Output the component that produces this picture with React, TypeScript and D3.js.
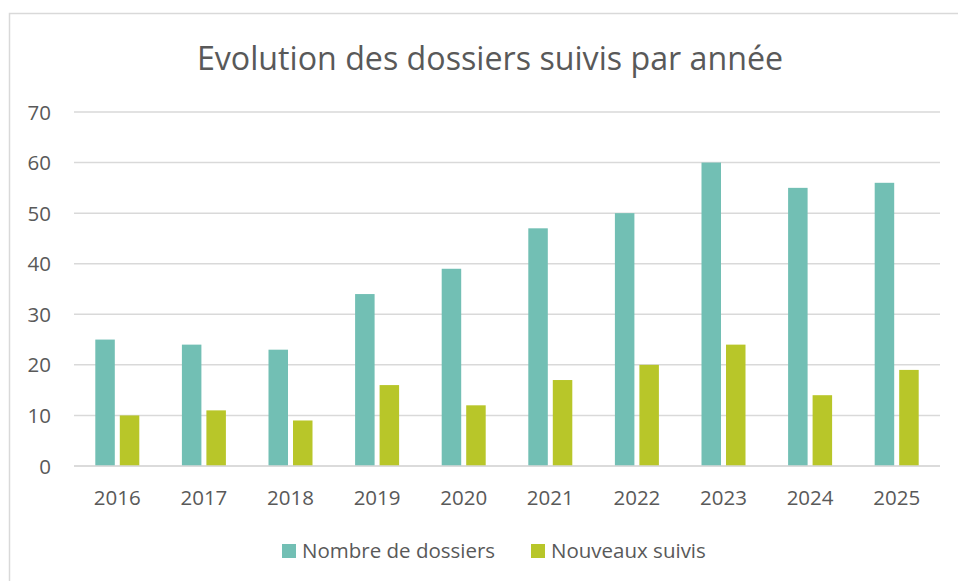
import React, { useEffect, useRef } from 'react';
import * as d3 from 'd3';

// données
const years = ['2016', '2017', '2018', '2019', '2020', '2021', '2022', '2023', '2024', '2025'];
const nombreDossiers = [25, 24, 23, 34, 39, 47, 50, 60, 55, 56];
const nouveauxSuivis = [10, 11, 9, 16, 12, 17, 20, 24, 14, 19];
const yTicks = [0, 10, 20, 30, 40, 50, 60, 70];
const seriesNames = ['Nombre de dossiers', 'Nouveaux suivis'];
const seriesColors = ['#72BFB4', '#B8C629'];

const W = 958;
const H = 581;
const FONT = '"Open Sans", sans-serif';
const TEXT = '#595959';

const App: React.FC = () => {
  const ref = useRef<SVGSVGElement>(null);

  useEffect(() => {
    if (!ref.current) return;
    const svg = d3.select(ref.current);
    svg.selectAll('*').remove();

    // cadre du graphique
    svg
      .append('rect')
      .attr('x', 9.5)
      .attr('y', 13.5)
      .attr('width', W + 10)
      .attr('height', H + 10)
      .attr('fill', '#fff')
      .attr('stroke', '#D9D9D9')
      .attr('stroke-width', 1.5);

    // titre
    svg
      .append('text')
      .attr('x', 490)
      .attr('y', 70)
      .attr('text-anchor', 'middle')
      .attr('font-family', FONT)
      .attr('font-size', 32.2)
      .attr('fill', TEXT)
      .text('Evolution des dossiers suivis par année');

    const plot = { left: 74, right: 940, top: 112, bottom: 466 };

    const x = d3.scaleBand<string>().domain(years).range([plot.left, plot.right]);
    const y = d3.scaleLinear().domain([0, 70]).range([plot.bottom, plot.top]);
    const xSeries = d3.scaleBand<number>().domain([0, 1]).range([-22, 22]).paddingInner(0.204);

    // grille
    svg
      .append('g')
      .selectAll('line')
      .data(yTicks)
      .join('line')
      .attr('x1', plot.left)
      .attr('x2', plot.right)
      .attr('y1', (d) => y(d))
      .attr('y2', (d) => y(d))
      .attr('stroke', '#D9D9D9')
      .attr('stroke-width', 1.5);

    // étiquettes axe Y
    svg
      .append('g')
      .selectAll('text')
      .data(yTicks)
      .join('text')
      .attr('x', 51)
      .attr('y', (d) => y(d) + 7.5)
      .attr('text-anchor', 'end')
      .attr('font-family', FONT)
      .attr('font-size', 20.5)
      .attr('fill', TEXT)
      .text((d) => d);

    // barres
    const series = [nombreDossiers, nouveauxSuivis];
    series.forEach((vals, si) => {
      svg
        .append('g')
        .selectAll('rect')
        .data(vals)
        .join('rect')
        .attr('x', (_, i) => x(years[i])! + x.bandwidth() / 2 + xSeries(si)!)
        .attr('y', (d) => y(d))
        .attr('width', xSeries.bandwidth())
        .attr('height', (d) => y(0) - y(d))
        .attr('fill', seriesColors[si]);
    });

    // axe X
    svg
      .append('line')
      .attr('x1', plot.left)
      .attr('x2', plot.right)
      .attr('y1', y(0))
      .attr('y2', y(0))
      .attr('stroke', '#D9D9D9')
      .attr('stroke-width', 1.5);

    svg
      .append('g')
      .selectAll('text')
      .data(years)
      .join('text')
      .attr('x', (d) => x(d)! + x.bandwidth() / 2)
      .attr('y', 505)
      .attr('text-anchor', 'middle')
      .attr('font-family', FONT)
      .attr('font-size', 20.5)
      .attr('fill', TEXT)
      .text((d) => d);

    // légende
    const legendX = [282, 531];
    const legend = svg
      .append('g')
      .selectAll('g')
      .data(seriesNames)
      .join('g')
      .attr('transform', (_, i) => `translate(${legendX[i]},544)`);
    legend
      .append('rect')
      .attr('width', 14)
      .attr('height', 14)
      .attr('fill', (_, i) => seriesColors[i]);
    legend
      .append('text')
      .attr('x', 20)
      .attr('y', 14)
      .attr('font-family', FONT)
      .attr('font-size', 20.5)
      .attr('fill', TEXT)
      .text((d) => d);
  }, []);

  return <svg ref={ref} width={W} height={H} style={{ position: 'absolute', left: 0, top: 0 }} />;
};

export default App;
